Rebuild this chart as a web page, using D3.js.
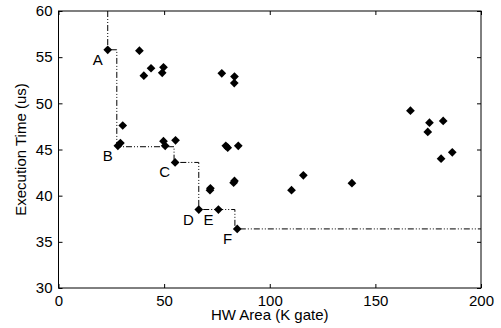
<!DOCTYPE html>
<html>
<head>
<meta charset="utf-8">
<script src="https://cdn.jsdelivr.net/npm/d3@7"></script>
<style>
  html, body { margin: 0; padding: 0; background: #fff; overflow: hidden; }
  svg { display: block; }
  svg text { font-family: "Liberation Sans", Arial, sans-serif; fill: #000; }
</style>
</head>
<body>
<div id="chart"></div>
<script>
// design points: HW area (K gate), execution time (us)
const areaK = [23.3, 38.3, 40.4, 43.8, 49.7, 49.1, 30.4, 28.1, 29.3, 49.7, 50.5, 55.4,
    77.3, 83.3, 83.2, 79.2, 80.1, 85.1, 166.6, 175.6, 174.8, 182.1, 186.4, 181.1,
    55.2, 66.4, 75.7, 84.6, 71.9, 71.7, 83.3, 82.9, 110.3, 115.9, 138.9];
const execUs = [55.8, 55.7, 53.0, 53.8, 53.9, 53.3, 47.6, 45.4, 45.7, 45.9, 45.4, 46.0,
    53.25, 52.9, 52.2, 45.4, 45.2, 45.4, 49.2, 47.9, 46.9, 48.1, 44.7, 44.0,
    43.6, 38.5, 38.5, 36.4, 40.8, 40.6, 41.6, 41.4, 40.6, 42.2, 41.35];

// pareto front (step line)
const frontX = [23.3, 23.3, 27.6, 54.7, 66.4, 83.5, 200];
const frontY = [60, 55.8, 45.3, 43.6, 38.5, 36.4, 36.4];

// labelled points
const labelNames = ["A", "B", "C", "D", "E", "F"];
const labelX = [23.3, 28.1, 55.2, 66.4, 75.7, 84.6];
const labelY = [55.8, 45.4, 43.6, 38.5, 38.5, 36.4];

const xTicks = [0, 50, 100, 150, 200];
const yTicks = [30, 35, 40, 45, 50, 55, 60];

const width = 501, height = 328;
const margin = { top: 11, right: 20, bottom: 40, left: 58.5 };
const innerWidth = width - margin.left - margin.right;
const innerHeight = height - margin.top - margin.bottom;

const svg = d3.select("#chart").append("svg")
    .attr("width", width)
    .attr("height", height);
const graph = svg.append("g")
    .attr("transform", `translate(${margin.left},${margin.top})`);

const x = d3.scaleLinear().domain([0, 200]).range([0, innerWidth]);
const y = d3.scaleLinear().domain([30, 60]).range([innerHeight, 0]);

// axes with inward ticks (bottom/left labelled, top/right bare)
const tickLen = 4;
graph.append("g")
    .attr("transform", `translate(0,${innerHeight})`)
    .call(d3.axisBottom(x).tickValues(xTicks).tickSizeInner(-tickLen).tickSizeOuter(0).tickPadding(7));
graph.append("g")
    .call(d3.axisLeft(y).tickValues(yTicks).tickSizeInner(-tickLen).tickSizeOuter(0).tickPadding(6));
const topAxis = graph.append("g")
    .call(d3.axisTop(x).tickValues(xTicks).tickSizeInner(-tickLen).tickSizeOuter(0));
const rightAxis = graph.append("g")
    .attr("transform", `translate(${innerWidth},0)`)
    .call(d3.axisRight(y).tickValues(yTicks).tickSizeInner(-tickLen).tickSizeOuter(0));
topAxis.selectAll("text").remove();
rightAxis.selectAll("text").remove();

graph.selectAll(".domain").remove();
graph.selectAll(".tick line").attr("stroke", "#000");
graph.selectAll(".tick text").attr("font-size", "15px");

graph.append("rect")
    .attr("width", innerWidth)
    .attr("height", innerHeight)
    .attr("fill", "none")
    .attr("stroke", "#000")
    .attr("stroke-width", 1);

// pareto front
graph.append("path")
    .datum(d3.range(frontX.length))
    .attr("fill", "none")
    .attr("stroke", "#000")
    .attr("stroke-width", 1)
    .attr("stroke-dasharray", "6,2,1,2,1,2")
    .attr("d", d3.line()
        .x(i => x(frontX[i]))
        .y(i => y(frontY[i]))
        .curve(d3.curveStepAfter));

// diamonds
const diamond = d3.symbol().type(d3.symbolSquare).size(38);
graph.selectAll("path.pt")
    .data(d3.range(areaK.length))
    .join("path")
    .attr("class", "pt")
    .attr("d", diamond)
    .attr("transform", i => `translate(${x(areaK[i])},${y(execUs[i])}) rotate(45)`)
    .attr("fill", "#000");

// point labels, placed to the lower left of each point
graph.selectAll("text.lbl")
    .data(d3.range(labelNames.length))
    .join("text")
    .attr("class", "lbl")
    .attr("x", i => x(labelX[i]) - 5)
    .attr("y", i => y(labelY[i]) + 15)
    .attr("text-anchor", "end")
    .attr("font-size", "15px")
    .text(i => labelNames[i]);

// axis titles
svg.append("text")
    .attr("x", margin.left + innerWidth / 2)
    .attr("y", 320)
    .attr("text-anchor", "middle")
    .attr("font-size", "15px")
    .text("HW Area (K gate)");
svg.append("text")
    .attr("transform", `translate(26,${margin.top + innerHeight / 2}) rotate(-90)`)
    .attr("text-anchor", "middle")
    .attr("font-size", "15px")
    .text("Execution Time (us)");
</script>
</body>
</html>
